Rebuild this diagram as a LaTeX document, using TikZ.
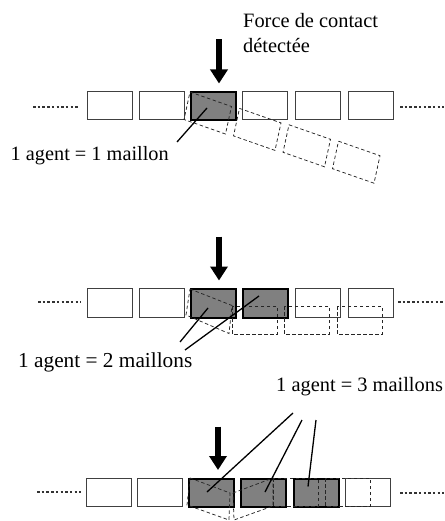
\documentclass[tikz,border=0pt]{standalone}
\usepackage{fontspec}
\setmainfont{Liberation Serif}
\usetikzlibrary{arrows.meta}
\begin{document}
\begin{tikzpicture}[x=1pt,y=-1pt,
  wbox/.style={draw=black!75, line width=0.9pt, fill=white, minimum width=45pt, minimum height=28.5pt, inner sep=0pt, anchor=north west},
  gbox/.style={draw=black, line width=2pt, fill=black!50, minimum width=45pt, minimum height=28.5pt, inner sep=0pt, anchor=north west},
  dashbox/.style={draw=black!85, line width=0.75pt, dash pattern=on 3.5pt off 2.5pt},
  dotline/.style={draw=black!80, line width=1.4pt, dash pattern=on 2.5pt off 2.2pt},
  ptr/.style={draw=black, line width=1.3pt},
  bigarrow/.style={draw=black, line width=6.5pt, -{Triangle[width=17pt,length=14pt]}},
  lbl/.style={inner sep=0pt, anchor=base west}]
\useasboundingbox (0,0) rectangle (444,521);

% ---------- Row 1 ----------
\node[lbl, font=\fontsize{20.4}{24}\selectfont] (force1) at (243,28) {Force de contact};
\node[lbl, font=\fontsize{20.4}{24}\selectfont] (force2) at (243,53) {détectée};

\node[wbox] (r1b1) at (87,91) {};
\node[wbox] (r1b2) at (139,91) {};
\node[gbox] (r1b3) at (190,91) {};
\node[wbox] (r1b4) at (242,91) {};
\node[wbox] (r1b5) at (295,91) {};
\node[wbox] (r1b6) at (348,91) {};

\coordinate (r1dl1) at (33,107);
\coordinate (r1dl2) at (78,107);
\coordinate (r1dr1) at (400,107);
\coordinate (r1dr2) at (444,107);
\draw[dotline] (r1dl1) -- (r1dl2);
\draw[dotline] (r1dr1) -- (r1dr2);

\foreach \tx/\ty in {190/92, 239.5/108.4, 289/124.8, 338.5/141.2}{
  \draw[dashbox] (\tx,\ty) -- ++(41.5,14.5) -- ++(-6,27.5) -- ++(-41.5,-14.5) -- cycle;
}

\coordinate (a1top) at (219,39.5);
\coordinate (a1tip) at (219,83.5);
\draw[bigarrow] (a1top) -- (a1tip);

\node[lbl, font=\fontsize{20.3}{24}\selectfont] (lab1) at (10.5,161) {1 agent = 1 maillon};
\coordinate (p1s) at (177,142);
\coordinate (p1e) at (207,108);
\draw[ptr] (p1s) -- (p1e);

% ---------- Row 2 ----------
\node[wbox] (r2b1) at (87,288) {};
\node[wbox] (r2b2) at (139,288) {};
\node[gbox] (r2b3) at (190,288) {};
\node[gbox] (r2b4) at (242,288) {};
\node[wbox] (r2b5) at (295,288) {};
\node[wbox] (r2b6) at (348,288) {};

\coordinate (r2dl1) at (38,302);
\coordinate (r2dl2) at (81,302);
\coordinate (r2dr1) at (398,302);
\coordinate (r2dr2) at (444,302);
\draw[dotline] (r2dl1) -- (r2dl2);
\draw[dotline] (r2dr1) -- (r2dr2);

\draw[dashbox] (190,289) -- (232,305.5) -- (229,333.5) -- (186,315) -- cycle;
\draw[dashbox] (232,306) rectangle (277,334);
\draw[dashbox] (284,306) rectangle (329,334);
\draw[dashbox] (337,306) rectangle (382,334);

\coordinate (a2top) at (219,236.5);
\coordinate (a2tip) at (219,280.5);
\draw[bigarrow] (a2top) -- (a2tip);

\node[lbl, font=\fontsize{21.3}{25}\selectfont] (lab2) at (18,367) {1 agent = 2 maillons};
\coordinate (p2as) at (180,342);
\coordinate (p2ae) at (208,308);
\coordinate (p2bs) at (185,350);
\coordinate (p2be) at (259,296);
\draw[ptr] (p2as) -- (p2ae);
\draw[ptr] (p2bs) -- (p2be);

% ---------- Row 3 ----------
\node[lbl, font=\fontsize{20.4}{24}\selectfont] (lab3) at (276,391) {1 agent = 3 maillons};

\node[wbox] (r3b1) at (86,477.5) {};
\node[wbox] (r3b2) at (137,477.5) {};
\node[gbox] (r3b3) at (188,477.5) {};
\node[gbox] (r3b4) at (240,477.5) {};
\node[gbox] (r3b5) at (293,477.5) {};
\node[wbox] (r3b6) at (345,477.5) {};

\coordinate (r3dl1) at (37,492);
\coordinate (r3dl2) at (81,492);
\coordinate (r3dr1) at (400,493);
\coordinate (r3dr2) at (444,493);
\draw[dotline] (r3dl1) -- (r3dl2);
\draw[dotline] (r3dr1) -- (r3dr2);

\draw[dashbox] (190,478) -- (230,493) -- (229,520) -- (187,505) -- cycle;
\draw[dashbox] (233,493) -- (273,478) -- (273,506) -- (234,520) -- cycle;
\draw[dashbox] (273,478) rectangle (318,506);
\draw[dashbox] (325,478) rectangle (370,506);

\coordinate (a3top) at (218,426.5);
\coordinate (a3tip) at (218,470);
\draw[bigarrow] (a3top) -- (a3tip);

\coordinate (p3as) at (293,413);
\coordinate (p3ae) at (207,492);
\coordinate (p3bs) at (302,420);
\coordinate (p3be) at (265,492);
\coordinate (p3cs) at (316,420);
\coordinate (p3ce) at (308,486.5);
\draw[ptr] (p3as) -- (p3ae);
\draw[ptr] (p3bs) -- (p3be);
\draw[ptr] (p3cs) -- (p3ce);
\end{tikzpicture}
\end{document}
